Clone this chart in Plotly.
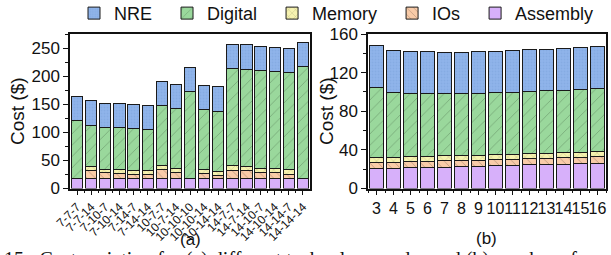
import plotly.graph_objects as go

# ---------------- data ----------------
cats_a = ["7-7-7", "7-7-14", "7-10-7", "7-10-14", "7-14-7", "7-14-14",
          "10-7-7", "10-7-14", "10-10-10", "10-10-14", "10-14-14",
          "14-7-7", "14-7-14", "14-10-7", "14-10-14", "14-14-7", "14-14-14"]
assembly_a = [18.5] * 17
digital_a = [102.5, 73.5, 73.5, 73.5, 73.5, 73.5, 105.5, 106, 154.5, 106, 107,
             173.5, 172.5, 173.5, 172.5, 173.5, 199.5]
ios_a = [None, 13, 10, 9, 7, 6, 15, 10, None, 8.5, 5.5, 14, 14, 10, 9.5, 6, None]
memory_a = [None, 8, 6, 7, 7, 7, 8, 7.5, None, 7.5, 6.5, 8, 7.5, 7.5, 7.5, 8.5, None]
nre_a = [43, 43, 44, 43, 43, 42, 43.5, 44, 43, 43.5, 43.5, 43, 43.5, 42.5, 43, 43, 42]

cats_b = [3, 4, 5, 6, 7, 8, 9, 10, 11, 12, 13, 14, 15, 16]
assembly_b = [20.5, 21, 21.4, 21.8, 22.1, 22.6, 23.2, 23.7, 24.1, 24.5, 24.8, 25.1, 25.5, 26.2]
ios_b = [6.4, 6.3, 6.4, 6.5, 6.5, 6.3, 6.3, 6.3, 6.3, 6.4, 6.5, 6.5, 6.6, 6.6]
memory_b = [5.1, 4.7, 5.0, 5.0, 5.2, 5.1, 5.1, 5.0, 5.1, 5.1, 5.2, 5.3, 5.4, 5.4]
digital_b = [72.4, 67.6, 66.1, 65.2, 64.4, 64.3, 64.0, 64.3, 64.3, 64.5, 64.7, 65.0, 65.1, 65.2]
nre_b = [43.4, 43.8, 43.4, 43.5, 43.1, 42.9, 43.1, 43.0, 43.0, 43.0, 43.0, 43.1, 43.2, 43.2]

series_names = ["NRE", "Digital", "Memory", "IOs", "Assembly"]
y_title = "Cost ($)"
caption = "15:  Cost variation for (a) different technology nodes and (b) number of configurations"

# ---------------- styles ----------------
styles = {
    "Assembly": dict(color="#d7b0fa", pattern=dict(shape="")),
    "IOs": dict(color="#f8cba8", pattern=dict(shape="\\", fgcolor="#6b5040", size=6, solidity=0.12)),
    "Memory": dict(color="#f6f2b0", pattern=dict(shape="x", fgcolor="#6a6a40", size=6, solidity=0.12)),
    "Digital": dict(color="#9ad89c", pattern=dict(shape="/", fgcolor="#3d5a3d", size=8, solidity=0.08)),
    "NRE": dict(color="#8fb4ea", pattern=dict(shape=".", fgcolor="#7ea2dc", size=3, solidity=0.3)),
}

fig = go.Figure()

xa = list(range(len(cats_a)))
data_a = {"Assembly": assembly_a, "IOs": ios_a, "Memory": memory_a, "Digital": digital_a, "NRE": nre_a}
data_b = {"Assembly": assembly_b, "IOs": ios_b, "Memory": memory_b, "Digital": digital_b, "NRE": nre_b}

order = ["Assembly", "IOs", "Memory", "Digital", "NRE"]
legend_rank = {n: i for i, n in enumerate(series_names)}
NBSP = "\u00a0"
for name in order:
    st = styles[name]
    fig.add_trace(go.Bar(
        x=xa, y=data_a[name], name=name + (NBSP * 2 if name != "Assembly" else ""),
        xaxis="x", yaxis="y",
        width=0.8, legendrank=legend_rank[name] + 1,
        marker=dict(color=st["color"], pattern=st["pattern"],
                    line=dict(color="#1a1a1a", width=1)),
        showlegend=True,
    ))
for name in order:
    st = styles[name]
    fig.add_trace(go.Bar(
        x=cats_b, y=data_b[name], name=name, xaxis="x2", yaxis="y2",
        width=0.8,
        marker=dict(color=st["color"], pattern=st["pattern"],
                    line=dict(color="#1a1a1a", width=1)),
        showlegend=False,
    ))

W, H = 611, 255
def px_x(p):
    return p / W
def px_y(p):
    return 1 - p / H

font_fam = "Liberation Sans, Arial, sans-serif"
axis_common = dict(
    showline=True, linecolor="#111", linewidth=1.5, mirror=True,
    ticks="outside", ticklen=5, tickwidth=1.2, tickcolor="#111",
    showgrid=False, zeroline=False, automargin=False,
    tickfont=dict(family=font_fam, size=17, color="#111"),
)

fig.update_layout(
    width=W, height=H,
    margin=dict(l=0, r=0, t=0, b=0, autoexpand=False),
    paper_bgcolor="white", plot_bgcolor="white",
    barmode="stack",
    font=dict(family=font_fam, color="#111"),
    xaxis=dict(domain=[px_x(70), px_x(310)], range=[-0.5, len(cats_a) - 0.5],
               tickmode="array", tickvals=xa, ticktext=cats_a, tickangle=-45,
               minor=dict(tickmode="array", tickvals=[i + 0.5 for i in xa[:-1]],
                          ticks="outside", ticklen=3, tickcolor="#111"),
               anchor="y", **{**axis_common, "tickfont": dict(family=font_fam, size=12, color="#111")}),
    yaxis=dict(domain=[px_y(188.5), px_y(34)], range=[0, 275], dtick=50,
               minor=dict(dtick=25, ticks="outside", ticklen=3, tickcolor="#111"),
               title=dict(text=y_title, font=dict(family=font_fam, size=19), standoff=2),
               anchor="x", **axis_common),
    xaxis2=dict(domain=[px_x(368), px_x(606)], range=[2.5, 16.5], dtick=1, tickangle=0,
                minor=dict(dtick=0.5, ticks="outside", ticklen=3, tickcolor="#111"),
                anchor="y2", **{**axis_common, "tickfont": dict(family=font_fam, size=16, color="#111")}),
    yaxis2=dict(domain=[px_y(188.5), px_y(34)], range=[0, 160], dtick=40,
                minor=dict(dtick=20, ticks="outside", ticklen=3, tickcolor="#111"),
                anchor="x2", **axis_common),
    legend=dict(orientation="h", x=px_x(74), y=1.02, xanchor="left", yanchor="top",
                font=dict(family=font_fam, size=18, color="#111"),
                itemwidth=30, traceorder="normal", bgcolor="rgba(0,0,0,0)",
                tracegroupgap=0),
    showlegend=True,
    annotations=[
        dict(text=y_title, x=px_x(326), y=px_y(111), xref="paper", yref="paper",
             xanchor="center", yanchor="middle", textangle=-90,
             showarrow=False, font=dict(family=font_fam, size=19, color="#111")),
        dict(text="(a)", x=px_x(190), y=px_y(239), xref="paper", yref="paper",
             xanchor="center", yanchor="middle",
             showarrow=False, font=dict(family=font_fam, size=17, color="#111")),
        dict(text="(b)", x=px_x(487), y=px_y(238), xref="paper", yref="paper",
             xanchor="center", yanchor="middle",
             showarrow=False, font=dict(family=font_fam, size=17, color="#111")),
        dict(text=caption,
             x=px_x(2), y=px_y(246), xref="paper", yref="paper", xanchor="left", yanchor="top",
             showarrow=False, font=dict(family="Liberation Serif, Times New Roman, serif", size=20, color="#111")),
    ],
)

fig.write_html("out.html", config={"displayModeBar": False},
               post_script="document.body.style.margin='0';document.body.style.padding='0';")
